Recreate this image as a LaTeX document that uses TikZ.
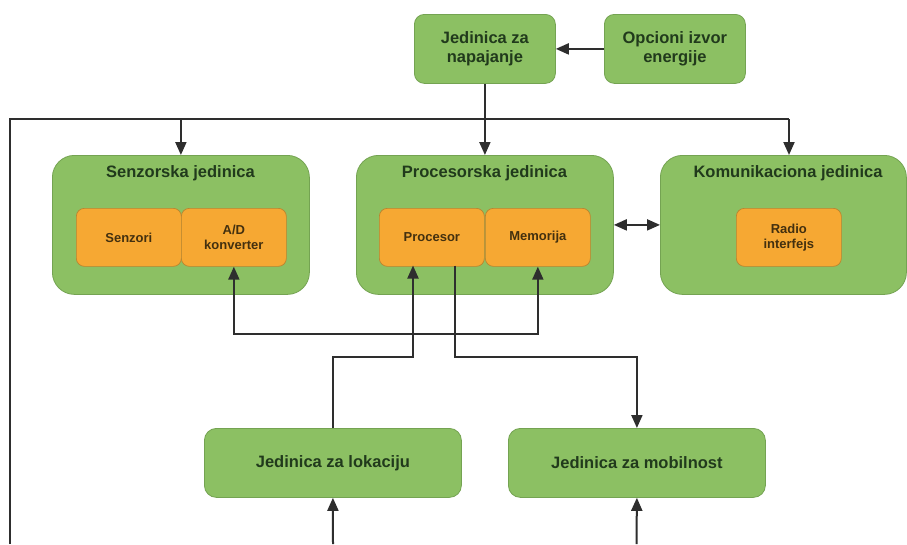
\documentclass[tikz,border=0pt]{standalone}
\usepackage{fontspec}
\setmainfont{Liberation Sans}
\usetikzlibrary{arrows.meta}
\definecolor{unitgreen}{HTML}{8CC063}
\definecolor{unitedge}{HTML}{74A352}
\definecolor{partorange}{HTML}{F6A833}
\definecolor{partedge}{HTML}{B98430}
\definecolor{greentext}{HTML}{213A1C}
\definecolor{orangetext}{HTML}{43300F}
\definecolor{wire}{HTML}{2E2E2E}
\tikzset{
  unit/.style={draw=unitedge, line width=0.8pt, fill=unitgreen, anchor=north west,
    inner sep=0pt, align=center, text=greentext, font=\bfseries\fontsize{16.5}{19}\selectfont},
  bigunit/.style={unit, rounded corners=22pt, minimum width=257pt, minimum height=139pt},
  smallunit/.style={unit, rounded corners=10pt, minimum width=141pt, minimum height=69pt},
  lowunit/.style={unit, rounded corners=12pt, minimum width=257pt, minimum height=69pt},
  part/.style={draw=partedge, line width=0.7pt, fill=partorange, anchor=north west,
    rounded corners=8pt, minimum width=105pt, minimum height=58pt, inner sep=0pt,
    align=center, text=orangetext, font=\bfseries\fontsize{13}{15}\selectfont},
  title/.style={text=greentext, font=\bfseries\fontsize{16.5}{19}\selectfont},
  link/.style={draw=wire, line width=2pt, -{Triangle[length=13pt,width=11pt]}},
  duallink/.style={link, {Triangle[length=13pt,width=11pt]}-{Triangle[length=13pt,width=11pt]}},
  plain/.style={draw=wire, line width=2pt}
}
\begin{document}
\begin{tikzpicture}[x=1pt, y=-1pt]
  \useasboundingbox (0,0) rectangle (907,544);
  \fill[white] (0,0) rectangle (907,544);

  % power supply
  \node[smallunit] (nap) at (414,14) {Jedinica za\\napajanje};
  \node[smallunit] (opc) at (604,14) {Opcioni izvor\\energije};

  % main units
  \node[bigunit] (sen) at (52,155) {};
  \node[title] (sent) at (180.5,173) {Senzorska jedinica};
  \node[part] (senz) at (76,208) {Senzori};
  \node[part] (ad) at (181,208) {A/D\\konverter};

  \node[bigunit] (pro) at (356,155) {};
  \node[title] (prot) at (484.5,173) {Procesorska jedinica};
  \node[part] (pr) at (379,208) {Procesor};
  \node[part] (mem) at (485,208) {Memorija};

  \node[bigunit, minimum width=246pt] (kom) at (660,155) {};
  \node[title] (komt) at (788,173) {Komunikaciona jedinica};
  \node[part] (rad) at (736,208) {Radio\\interfejs};

  % location and mobility
  \node[lowunit] (lok) at (204,428) {Jedinica za lokaciju};
  \node[lowunit] (mob) at (508,428) {Jedinica za mobilnost};

  % wiring points
  \coordinate (busL) at (10,119);
  \coordinate (busR) at (789,119);
  \coordinate (busEnd) at (10,544);
  \coordinate (row1) at (0,334);
  \coordinate (row2) at (0,357);
  \coordinate (prIn) at (413,265.5);
  \coordinate (prOut) at (455,265.5);
  \coordinate (lokIn) at (333,544);
  \coordinate (mobIn) at (636.5,544);

  % power distribution
  \draw[link] (opc.west) -- (nap.east);
  \draw[link] (nap.south) -- (pro.north);
  \draw[plain] (busEnd) -- (busL) -- (busR);
  \draw[link] (sen.north |- busL) -- (sen.north);
  \draw[link] (busR) -- (busR |- kom.north);

  % data paths
  \draw[duallink] (pro.east) -- (kom.west);
  \draw[duallink] (ad.south) -- (ad.south |- row1) -| (mem.south);
  \draw[link] (lok.north) |- (row2 -| prIn) -- (prIn);
  \draw[link] (prOut) |- (row2 -| mob.north) -- (mob.north);
  \draw[link] (lokIn) -- (lok.south);
  \draw[link] (mobIn) -- (mob.south);
\end{tikzpicture}
\end{document}
